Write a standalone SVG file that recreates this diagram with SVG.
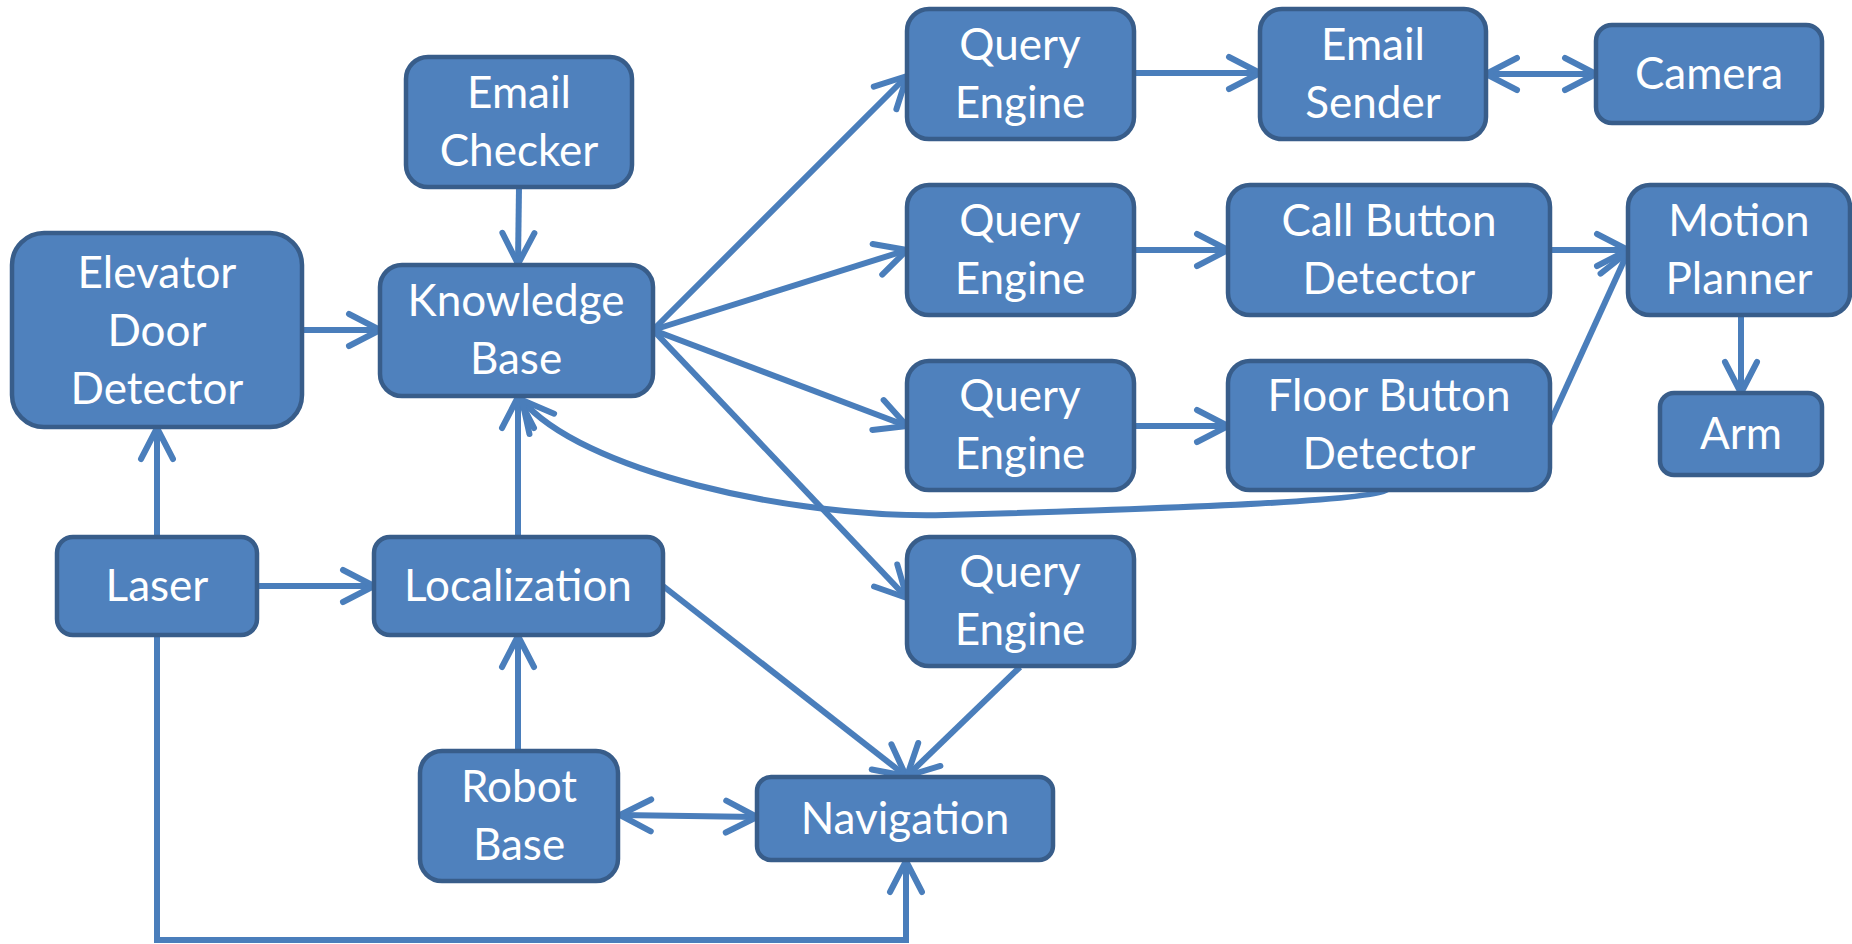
<svg xmlns="http://www.w3.org/2000/svg" width="1852" height="944" viewBox="0 0 1852 944">
<style>
.n rect{fill:#4F81BD;stroke:#385D8A;stroke-width:4.5}
.n text{fill:#fff;font-family:Lato,"Open Sans","Liberation Sans",sans-serif;font-size:44px;text-anchor:middle}
.c path{fill:none;stroke:#4A7EBB;stroke-width:6}
</style>
<defs>
<marker id="ah" markerUnits="userSpaceOnUse" markerWidth="80" markerHeight="80" viewBox="-40 -40 80 80" refX="0" refY="0" orient="auto-start-reverse" overflow="visible">
<path d="M-31,-16 L0,0 L-31,16" fill="none" stroke="#4A7EBB" stroke-width="6" stroke-linecap="round" stroke-linejoin="round"/>
</marker>
</defs>
<rect width="1852" height="944" fill="#fff"/>
<g class="c">
<path d="M519,187 L518,264" marker-end="url(#ah)"/>
<path d="M302,330 L380,330" marker-end="url(#ah)"/>
<path d="M157,537 L157,428" marker-end="url(#ah)"/>
<path d="M257,586 L374,586" marker-end="url(#ah)"/>
<path d="M518,537 L518,397" marker-end="url(#ah)"/>
<path d="M518,751 L518,636" marker-end="url(#ah)"/>
<path d="M620,815 L757,817" marker-start="url(#ah)" marker-end="url(#ah)"/>
<path d="M157,635 L157,940 L906,940 L906,861" marker-end="url(#ah)"/>
<path d="M663,586 L906,776" marker-end="url(#ah)"/>
<path d="M1020,667 L907,776" marker-end="url(#ah)"/>
<path d="M653,330 L907,76" marker-end="url(#ah)"/>
<path d="M653,330 L907,250" marker-end="url(#ah)"/>
<path d="M653,330 L907,426" marker-end="url(#ah)"/>
<path d="M653,330 L907,598" marker-end="url(#ah)"/>
<path d="M1134,73 L1260,73" marker-end="url(#ah)"/>
<path d="M1134,250 L1228,250" marker-end="url(#ah)"/>
<path d="M1134,426 L1228,426" marker-end="url(#ah)"/>
<path d="M1486,74 L1596,74" marker-start="url(#ah)" marker-end="url(#ah)"/>
<path d="M1550,250 L1628,250" marker-end="url(#ah)"/>
<path d="M1549,425 L1628,252" marker-end="url(#ah)"/>
<path d="M1741,315 L1741,393" marker-end="url(#ah)"/>
<path d="M1388,489 C1380,500 1200,508 945,515 C790,519 580,470 522,400" marker-end="url(#ah)"/>
</g>
<g class="n" id="elevator"><rect x="12" y="233" width="290" height="194" rx="32"/><text x="157" y="288">Elevator</text><text x="157" y="346">Door</text><text x="157" y="404">Detector</text></g>
<g class="n" id="emailChecker"><rect x="406" y="57" width="226" height="130" rx="22"/><text x="519" y="108">Email</text><text x="519" y="166">Checker</text></g>
<g class="n" id="kb"><rect x="380" y="265" width="273" height="131" rx="22"/><text x="516" y="316">Knowledge</text><text x="516" y="374">Base</text></g>
<g class="n" id="qe1"><rect x="907" y="9" width="227" height="130" rx="22"/><text x="1020" y="60">Query</text><text x="1020" y="118">Engine</text></g>
<g class="n" id="qe2"><rect x="907" y="185" width="227" height="130" rx="22"/><text x="1020" y="236">Query</text><text x="1020" y="294">Engine</text></g>
<g class="n" id="qe3"><rect x="907" y="361" width="227" height="129" rx="22"/><text x="1020" y="411">Query</text><text x="1020" y="469">Engine</text></g>
<g class="n" id="qe4"><rect x="907" y="537" width="227" height="129" rx="22"/><text x="1020" y="587">Query</text><text x="1020" y="645">Engine</text></g>
<g class="n" id="emailSender"><rect x="1260" y="9" width="226" height="130" rx="22"/><text x="1373" y="60">Email</text><text x="1373" y="118">Sender</text></g>
<g class="n" id="camera"><rect x="1596" y="25" width="226" height="98" rx="16"/><text x="1709" y="89">Camera</text></g>
<g class="n" id="callButton"><rect x="1228" y="185" width="322" height="130" rx="22"/><text x="1389" y="236">Call Button</text><text x="1389" y="294">Detector</text></g>
<g class="n" id="motionPlanner"><rect x="1628" y="185" width="222" height="130" rx="22"/><text x="1739" y="236">Motion</text><text x="1739" y="294">Planner</text></g>
<g class="n" id="floorButton"><rect x="1228" y="361" width="322" height="129" rx="22"/><text x="1389" y="411">Floor Button</text><text x="1389" y="469">Detector</text></g>
<g class="n" id="arm"><rect x="1660" y="393" width="162" height="82" rx="14"/><text x="1741" y="449">Arm</text></g>
<g class="n" id="laser"><rect x="57" y="537" width="200" height="98" rx="16"/><text x="157" y="601">Laser</text></g>
<g class="n" id="localization"><rect x="374" y="537" width="289" height="98" rx="16"/><text x="518" y="601">Localization</text></g>
<g class="n" id="robotBase"><rect x="420" y="751" width="198" height="130" rx="22"/><text x="519" y="802">Robot</text><text x="519" y="860">Base</text></g>
<g class="n" id="navigation"><rect x="757" y="777" width="296" height="83" rx="14"/><text x="905" y="834">Navigation</text></g>
</svg>
